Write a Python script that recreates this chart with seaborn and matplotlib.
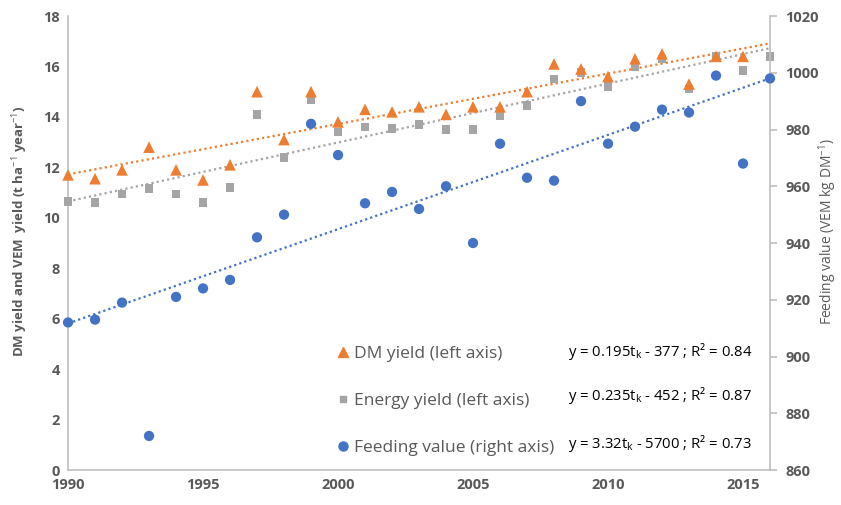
import matplotlib
matplotlib.use("Agg")
import matplotlib.pyplot as plt
import seaborn as sns
import pandas as pd
import numpy as np
from matplotlib.lines import Line2D

sns.set_theme(style="white")
plt.rcParams['font.family'] = ['Open Sans', 'DejaVu Sans']
plt.rcParams['mathtext.fontset'] = 'custom'
plt.rcParams['mathtext.rm'] = 'Open Sans'
plt.rcParams['mathtext.it'] = 'Open Sans'

years = list(range(1990, 2017))
dm_yield = [11.7, 11.55, 11.9, 12.8, 11.9, 11.5, 12.1, 15.0, 13.1, 15.0, 13.8, 14.3, 14.2, 14.4,
            14.1, 14.4, 14.4, 15.0, 16.1, 15.9, 15.6, 16.3, 16.5, 15.3, 16.4, 16.4, np.nan]
energy_yield = [10.65, 10.6, 10.95, 11.15, 10.95, 10.6, 11.2, 14.1, 12.4, 14.7, 13.4, 13.6, 13.55, 13.7,
                13.5, 13.5, 14.05, 14.45, 15.5, 15.75, 15.2, 16.0, 16.3, 15.1, 16.4, 15.85, 16.4]
feeding_value = [912, 913, 919, 872, 921, 924, 927, 942, 950, 982, 971, 954, 958, 952,
                 960, 940, 975, 963, 962, 990, 975, 981, 987, 986, 999, 968, 998]

labels = ["DM yield (left axis)", "Energy yield (left axis)", "Feeding value (right axis)"]
equations = ["y = 0.195t$_{\\mathrm{k}}$ - 377 ; R² = 0.84",
             "y = 0.235t$_{\\mathrm{k}}$ - 452 ; R² = 0.87",
             "y = 3.32t$_{\\mathrm{k}}$ - 5700 ; R² = 0.73"]

c_dm = "#ED7D31"
c_en = "#A5A5A5"
c_fv = "#4472C4"
txt = "#595959"
spine = "#BFBFBF"

df = pd.DataFrame({"year": years, "dm": dm_yield, "en": energy_yield, "fv": feeding_value})

fig = plt.figure(figsize=(8.41, 5.05), dpi=100)
ax = fig.add_axes([0.0809, 0.0693, 0.8347, 0.899])
ax2 = ax.twinx()

ax.set_xlim(1990, 2016)
ax.set_ylim(0, 18)
ax2.set_ylim(860, 1020)

dot = (0, (1, 1.4))
sns.regplot(data=df.dropna(subset=["dm"]), x="year", y="dm", ax=ax, scatter=False, ci=None,
            truncate=False, line_kws=dict(color=c_dm, lw=1.6, ls=dot))
sns.regplot(data=df, x="year", y="en", ax=ax, scatter=False, ci=None, truncate=False,
            line_kws=dict(color=c_en, lw=1.6, ls=dot))
sns.regplot(data=df, x="year", y="fv", ax=ax2, scatter=False, ci=None, truncate=False,
            line_kws=dict(color=c_fv, lw=1.6, ls=dot))

sns.scatterplot(data=df, x="year", y="en", ax=ax, marker="s", color=c_en, s=38, edgecolor="none",
                zorder=3, clip_on=False)
sns.scatterplot(data=df, x="year", y="dm", ax=ax, marker="^", color=c_dm, s=70, edgecolor="none",
                zorder=4, clip_on=False)
sns.scatterplot(data=df, x="year", y="fv", ax=ax2, marker="o", color=c_fv, s=55, edgecolor="none",
                zorder=3, clip_on=False)

ax.set_xlim(1990, 2016)
ax.set_ylim(0, 18)
ax2.set_ylim(860, 1020)
ax.set_xticks([1990, 1995, 2000, 2005, 2010, 2015])
ax.set_yticks(range(0, 19, 2))
ax2.set_yticks(range(860, 1021, 20))
ax.set_xlabel("")
ax.set_ylabel("DM yield and VEM  yield (t ha$^{-1}$ year$^{-1}$)", color=txt, fontsize=9.5,
              fontweight="bold")
ax2.set_ylabel("Feeding value (VEM kg DM$^{-1}$)", color=txt, fontsize=10)
ax.yaxis.set_label_coords(-0.068, 0.526)
ax2.yaxis.set_label_coords(1.082, 0.524)
ax.yaxis.label.set_va("center")
ax2.yaxis.label.set_va("center")

for a in (ax, ax2):
    for s in a.spines.values():
        s.set_visible(False)
ax.spines["left"].set_visible(True)
ax.spines["bottom"].set_visible(True)
ax2.spines["right"].set_visible(True)
for s in (ax.spines["left"], ax.spines["bottom"], ax2.spines["right"]):
    s.set_color(spine)
    s.set_linewidth(1.2)

ax.tick_params(axis="both", length=0, labelsize=10.5, labelcolor=txt, pad=6)
ax2.tick_params(axis="y", length=5, color=spine, width=1.2, labelsize=10.5, labelcolor=txt, pad=6)
for lab in ax.get_xticklabels() + ax.get_yticklabels() + ax2.get_yticklabels():
    lab.set_fontweight("bold")

handles = [Line2D([], [], marker="^", color=c_dm, ls="none", markersize=6.5),
           Line2D([], [], marker="s", color=c_en, ls="none", markersize=5),
           Line2D([], [], marker="o", color=c_fv, ls="none", markersize=6.5)]
leg = ax.legend(handles, labels, loc="upper left", bbox_to_anchor=(0.372, 0.289), frameon=False,
                fontsize=12.5, labelspacing=1.77, handletextpad=0.25, handlelength=0.8,
                labelcolor=txt, borderaxespad=0)

eq_y = [352, 395, 443]
for e, yy in zip(equations, eq_y):
    fig.text(568 / 841, 1 - yy / 505, e, fontsize=10.7, color="black", va="center", ha="left")

fig.savefig("out.png", dpi=100)
